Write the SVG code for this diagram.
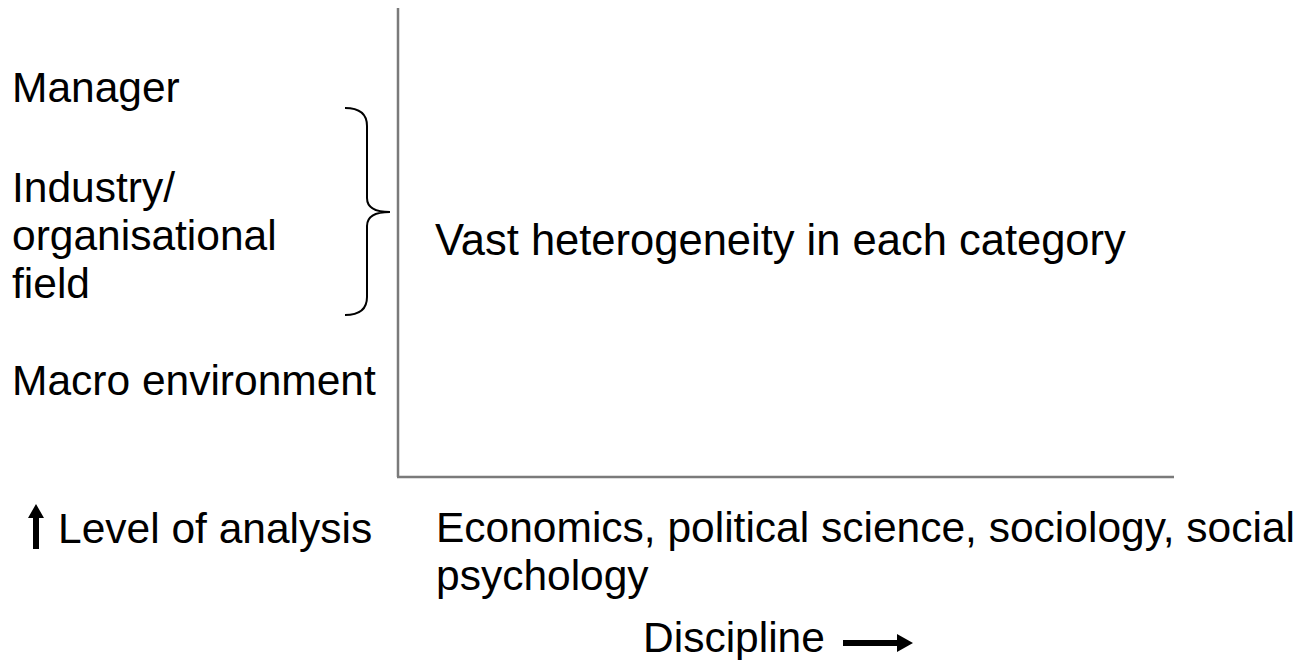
<svg xmlns="http://www.w3.org/2000/svg" width="1306" height="660" viewBox="0 0 1306 660">
<style>
  text { font-family: "Liberation Sans", Arial, sans-serif; font-size: 42.5px; fill: #000; }
  .axis { stroke: #7a7a7a; stroke-width: 2.5; fill: none; }
  .brace { stroke: #000; stroke-width: 2; fill: none; }
</style>
<rect width="1306" height="660" fill="#fff"/>
<g id="axes">
  <line class="axis" x1="398" y1="8" x2="398" y2="477"/>
  <line class="axis" x1="397" y1="477" x2="1174" y2="477"/>
</g>
<g id="levels">
  <text x="12" y="102">Manager</text>
  <text x="12" y="202">Industry/</text>
  <text x="12" y="250">organisational</text>
  <text x="12" y="298">field</text>
  <text x="12" y="395">Macro environment</text>
</g>
<g id="brace">
  <path class="brace" d="M345,108 Q367,108 367,126 L367,198 Q367,212 390,212 Q367,212 367,226 L367,297 Q367,315 345,315"/>
</g>
<g id="center-label">
  <text x="435" y="255" style="font-size:43.5px">Vast heterogeneity in each category</text>
</g>
<g id="level-axis-label">
  <path d="M33,549 L33,518 L28,518 L36,504 L44,518 L39,518 L39,549 Z" fill="#000"/>
  <text x="58" y="543">Level of analysis</text>
</g>
<g id="discipline-label">
  <text x="436" y="542">Economics, political science, sociology, social</text>
  <text x="436" y="590">psychology</text>
  <text x="643" y="652">Discipline</text>
  <path d="M843,640 L897,640 L897,634 L913,643 L897,652 L897,646 L843,646 Z" fill="#000"/>
</g>
</svg>
